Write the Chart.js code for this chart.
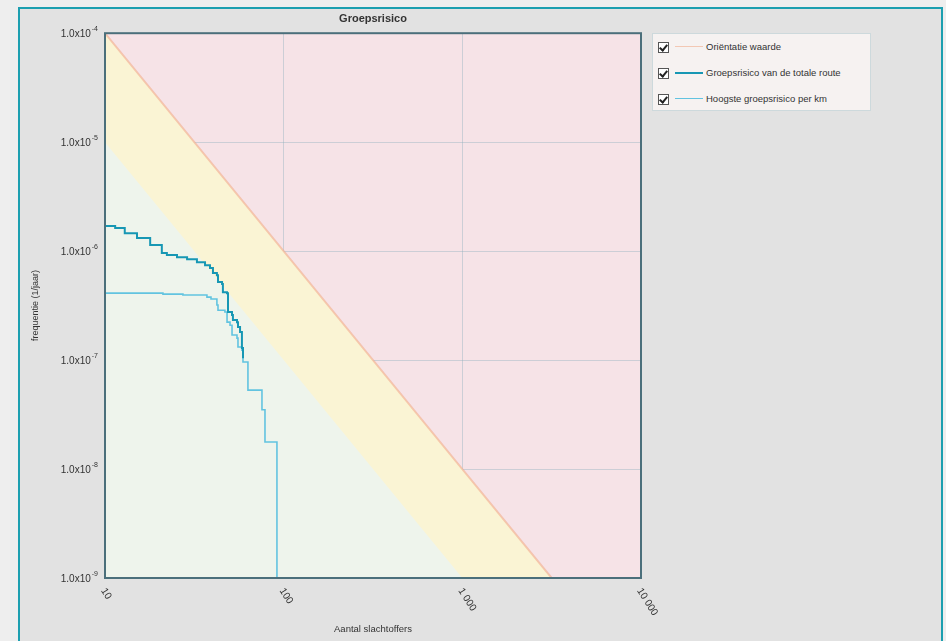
<!DOCTYPE html>
<html>
<head>
<meta charset="utf-8">
<script src="https://cdn.jsdelivr.net/npm/chart.js@4.4.0/dist/chart.umd.min.js"></script>
<style>
    body { margin: 0; width: 946px; height: 641px; overflow: hidden; position: relative; background: #eeeeee; font-family: "Liberation Sans", Arial, sans-serif; }
    #kader { position: absolute; left: 18px; top: 7px; width: 921px; height: 640px; border: 2px solid #1c9fb0; background: #e2e2e2; }
    #grafiek { position: absolute; left: 0; top: 0; }
    #legenda { position: absolute; left: 652px; top: 33px; width: 219px; height: 78px; box-sizing: border-box; background: #f6f2f1; border: 1px solid #cdd9dc; }
    .item { position: absolute; left: 5px; height: 14px; font-size: 9.5px; color: #333; line-height: 14px; white-space: nowrap; }
    .vinkje { position: absolute; left: 0; top: 2px; width: 9px; height: 9px; border: 1px solid #555; background: #fff; }
    .vinkje:after { content: ''; position: absolute; left: 2px; top: 0px; width: 3px; height: 6px; border: solid #222; border-width: 0 2px 2px 0; transform: rotate(40deg); }
    .lijn { position: absolute; left: 17px; top: 6px; width: 28px; }
    .tekst { position: absolute; left: 48px; top: 0; }
</style>
</head>
<body>
<div id="kader"></div>
<canvas id="grafiek" width="946" height="641"></canvas>
<div id="legenda"></div>
<script>
// groepsrisico van de totale route (aantal slachtoffers -> frequentie)
var routeN = [10, 11.4, 12.9, 15.1, 17.9, 20.8, 22.2, 25.3, 28.8, 32.7, 36.3, 38.7, 40.2, 42.3, 42.9, 45.2, 45.7, 48.2, 48.8, 51.4, 52.0, 54.8, 55.5, 57.0, 58.4, 59.2];
var routeF = [1.70e-6, 1.63e-6, 1.46e-6, 1.32e-6, 1.14e-6, 9.6e-7, 9.2e-7, 8.8e-7, 8.4e-7, 7.9e-7, 7.4e-7, 7.0e-7, 6.3e-7, 6.0e-7, 5.2e-7, 5.0e-7, 4.2e-7, 4.1e-7, 2.76e-7, 2.59e-7, 2.33e-7, 2.23e-7, 2.01e-7, 1.81e-7, 1.29e-7, 1.04e-7];

// hoogste groepsrisico per km
var kmN = [10, 21.1, 27.3, 37.2, 39.2, 42.3, 42.9, 46.9, 48.2, 50.1, 51.4, 54.8, 55.5, 58.4, 59.2, 63.1, 75.6, 78.6, 91.7];
var kmF = [4.12e-7, 4.03e-7, 3.95e-7, 3.78e-7, 3.63e-7, 3.20e-7, 2.87e-7, 2.76e-7, 2.23e-7, 2.09e-7, 1.70e-7, 1.59e-7, 1.32e-7, 1.23e-7, 9.6e-8, 5.3e-8, 3.5e-8, 1.77e-8, 1e-9];

// orientatiewaarde en ondergrens van de gele band
var orientatieN = [10, 100, 1000, 3162];
var orientatieF = [1e-4, 1e-6, 1e-8, 1e-9];
var grensN = [10, 100, 1000];
var grensF = [1e-5, 1e-7, 1e-9];

var xTickWaarden = [10, 100, 1000, 10000];
var xTickLabels = ['10', '100', '1 000', '10 000'];
var yTickWaarden = [1e-9, 1e-8, 1e-7, 1e-6, 1e-5, 1e-4];
var yTickLabels = ['1.0x10', '1.0x10', '1.0x10', '1.0x10', '1.0x10', '1.0x10'];
var yTickExponenten = ['-9', '-8', '-7', '-6', '-5', '-4'];

function punten(xs, ys) {
    return xs.map(function(x, i) { return {x: x, y: ys[i]}; });
}

var achtergrond = {
    id: 'achtergrond',
    beforeDatasetsDraw: function(chart) {
        var ca = chart.chartArea, ctx = chart.ctx;
        ctx.save();
        ctx.fillStyle = '#f6e3e7';
        ctx.globalCompositeOperation = 'destination-over';
        ctx.fillRect(ca.left, ca.top, ca.right - ca.left, ca.bottom - ca.top);
        ctx.restore();
    },
    afterDraw: function(chart) {
        var ca = chart.chartArea, ctx = chart.ctx, xs = chart.scales.x, ys = chart.scales.y;
        ctx.save();
        ctx.strokeStyle = '#4b6f7b';
        ctx.lineWidth = 2;
        ctx.strokeRect(ca.left, ca.top, ca.right - ca.left, ca.bottom - ca.top);
        ctx.fillStyle = '#333';
        // x-as labels schuin naar beneden
        ctx.font = '10px "Liberation Sans", Arial';
        ctx.textAlign = 'left';
        ctx.textBaseline = 'middle';
        xTickWaarden.forEach(function(v, i) {
            ctx.save();
            ctx.translate(xs.getPixelForValue(v) - 2, ca.bottom + 11);
            ctx.rotate(Math.PI * 0.32);
            ctx.fillText(xTickLabels[i], 0, 0);
            ctx.restore();
        });
        // y-as labels met exponent als superscript
        ctx.textAlign = 'right';
        yTickWaarden.forEach(function(v, i) {
            var py = ys.getPixelForValue(v);
            ctx.font = '7px "Liberation Sans", Arial';
            var w = ctx.measureText(yTickExponenten[i]).width;
            ctx.fillText(yTickExponenten[i], ca.left - 7, py - 4);
            ctx.font = '10px "Liberation Sans", Arial';
            ctx.fillText(yTickLabels[i], ca.left - 8 - w, py + 1);
        });
        ctx.restore();
    }
};

var groepsrisico = new Chart(document.getElementById('grafiek').getContext('2d'), {
    type: 'line',
    data: {
        datasets: [{
            label: 'Groepsrisico van de totale route',
            data: punten(routeN, routeF),
            borderColor: '#1797b4',
            backgroundColor: '#1797b4',
            borderWidth: 2,
            stepped: true,
            pointRadius: 0,
            fill: false
        }, {
            label: 'Hoogste groepsrisico per km',
            data: punten(kmN, kmF),
            borderColor: '#62c3e0',
            backgroundColor: '#62c3e0',
            borderWidth: 1.6,
            stepped: true,
            pointRadius: 0,
            fill: false
        }, {
            label: '',
            data: punten(grensN, grensF),
            borderWidth: 0,
            borderColor: 'rgba(0,0,0,0)',
            backgroundColor: '#eef4ec',
            pointRadius: 0,
            fill: 'start'
        }, {
            label: 'Oriëntatie waarde',
            data: punten(orientatieN, orientatieF),
            borderColor: 'rgba(242,172,140,0.6)',
            backgroundColor: '#faf4d4',
            borderWidth: 2,
            pointRadius: 0,
            fill: 'start'
        }]
    },
    options: {
        responsive: false,
        animation: false,
        layout: {
            padding: { left: 20, top: 8, right: 305, bottom: 0 }
        },
        plugins: {
            legend: { display: false },
            tooltip: { enabled: false },
            title: {
                display: true,
                text: 'Groepsrisico',
                fullSize: false,
                color: '#333',
                font: { family: '"Liberation Sans", Arial', size: 11, weight: 'bold' },
                padding: { top: 4, bottom: 8 }
            }
        },
        scales: {
            x: {
                type: 'logarithmic',
                min: 10,
                max: 10000,
                afterBuildTicks: function(scale) {
                    scale.ticks = xTickWaarden.map(function(v) { return {value: v}; });
                },
                afterFit: function(scale) { scale.height = 63; },
                ticks: { display: false },
                grid: { color: 'rgba(140,175,188,0.4)', drawTicks: false },
                border: { display: false },
                title: {
                    display: true,
                    text: 'Aantal slachtoffers',
                    color: '#333',
                    font: { family: '"Liberation Sans", Arial', size: 9.5 },
                    padding: { top: 0, bottom: 6 }
                }
            },
            y: {
                type: 'logarithmic',
                min: 1e-9,
                max: 1e-4,
                afterBuildTicks: function(scale) {
                    scale.ticks = yTickWaarden.map(function(v) { return {value: v}; });
                },
                afterFit: function(scale) { scale.width = 85; },
                ticks: { display: false },
                grid: { color: 'rgba(140,175,188,0.4)', drawTicks: false },
                border: { display: false },
                title: {
                    display: true,
                    text: 'frequentie (1/jaar)',
                    color: '#333',
                    font: { family: '"Liberation Sans", Arial', size: 9 },
                    padding: { top: 10, bottom: 0 }
                }
            }
        }
    },
    plugins: [achtergrond]
});

// legenda met vinkjes, in dezelfde volgorde als het origineel
var legenda = document.getElementById('legenda');
[3, 0, 1].forEach(function(idx, rij) {
    var ds = groepsrisico.data.datasets[idx];
    var item = document.createElement('div');
    item.className = 'item';
    item.style.top = (6 + rij * 26) + 'px';
    item.innerHTML = '<span class="vinkje"></span><span class="lijn" style="border-top:' + (idx == 0 ? 2 : 1.5) + 'px solid ' + ds.borderColor + '"></span><span class="tekst">' + ds.label + '</span>';
    legenda.appendChild(item);
});
</script>
</body>
</html>
